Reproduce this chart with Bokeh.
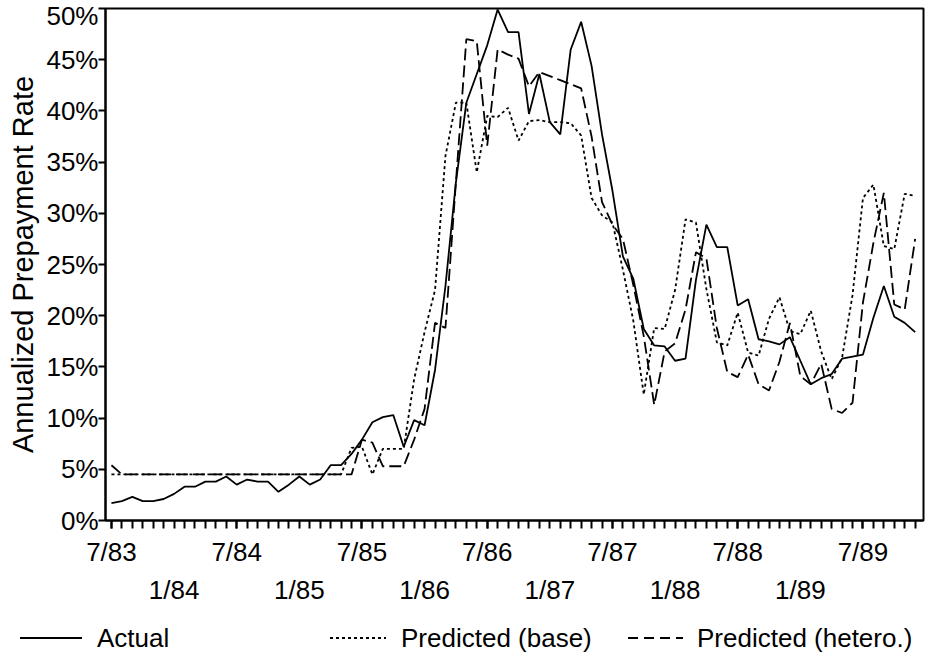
from bokeh.plotting import figure
from bokeh.layouts import column
from bokeh.models import (Range1d, LinearAxis, FixedTicker, Div,
                          PrintfTickFormatter)
from bokeh.embed import file_html
from bokeh.resources import INLINE

# months since 7/83 (monthly observations 7/83 .. 12/89)
month = list(range(78))

actual = [1.7, 1.9, 2.3, 1.9, 1.9, 2.1, 2.6, 3.3, 3.3, 3.8, 3.8, 4.3,
          3.5, 4.0, 3.8, 3.8, 2.8, 3.5, 4.3, 3.5, 4.0, 5.4, 5.4, 6.5,
          7.9, 9.6, 10.1, 10.3, 7.2, 9.8, 9.3, 14.7, 22.9, 33.0, 40.8, 43.6,
          46.4, 49.9, 47.7, 47.7, 39.7, 43.6, 38.9, 37.7, 46.0, 48.7, 44.4, 37.7,
          32.2, 25.8, 23.6, 18.7, 17.1, 17.0, 15.6, 15.8, 23.5, 28.9, 26.7, 26.7,
          21.0, 21.6, 17.7, 17.5, 17.2, 17.9, 15.6, 13.3, 13.9, 14.3, 15.8, 16.0,
          16.2, 19.8, 22.9, 19.9, 19.3, 18.4]

pred_base = [4.5] * 23 + [
          7.1, 7.2, 4.5, 7.0, 7.0, 7.0, 13.8, 18.4, 22.5, 35.6, 40.8, 40.8,
          34.0, 39.5, 39.4, 40.3, 37.1, 39.0, 39.1, 38.9, 38.9, 38.8, 37.6, 31.5,
          29.8, 29.1, 24.5, 19.5, 12.3, 18.8, 18.7, 22.5, 29.4, 29.1, 22.6, 17.4,
          17.1, 20.3, 16.4, 16.1, 19.7, 21.8, 18.5, 18.2, 20.5, 16.5, 13.8, 15.9,
          22.0, 31.5, 32.8, 26.8, 26.5, 31.9, 31.7]

pred_hetero = [5.4] + [4.5] * 23 + [
          7.9, 7.6, 5.3, 5.3, 5.3, 7.9, 10.9, 19.3, 18.8, 33.0, 47.0, 46.8,
          36.6, 46.0, 45.5, 45.1, 42.4, 43.8, 43.4, 43.0, 42.6, 42.2, 37.5, 31.1,
          28.9, 27.5, 23.0, 18.0, 11.3, 16.5, 17.3, 20.6, 26.2, 25.6, 18.8, 14.5,
          14.0, 16.2, 13.3, 12.7, 15.5, 19.3, 14.1, 13.3, 15.3, 10.9, 10.5, 11.5,
          21.3, 27.1, 32.0, 21.1, 20.6, 27.5]

july_ticks = [0, 12, 24, 36, 48, 60, 72]
july_labels = ["7/83", "7/84", "7/85", "7/86", "7/87", "7/88", "7/89"]
jan_ticks = [6, 18, 30, 42, 54, 66]
jan_labels = ["1/84", "1/85", "1/86", "1/87", "1/88", "1/89"]
y_ticks = [0, 5, 10, 15, 20, 25, 30, 35, 40, 45, 50]

series_labels = ["Actual", "Predicted (base)", "Predicted (hetero.)"]
series_dash = ["", "3 3", "12 5"]

FONT = "Liberation Sans"
FS = "26px"

p = figure(frame_width=818, frame_height=512,
           x_range=Range1d(-0.57, 77.8), y_range=Range1d(0, 50),
           output_backend="svg", toolbar_location=None,
           min_border_left=105, min_border_top=8, min_border_right=4,
           min_border_bottom=82)
p.xgrid.visible = False
p.ygrid.visible = False
p.outline_line_color = "black"
p.outline_line_width = 2
p.background_fill_color = "white"
p.border_fill_color = "white"

# y axis
ya = p.yaxis[0]
ya.ticker = FixedTicker(ticks=y_ticks)
ya.formatter = PrintfTickFormatter(format="%d%%")
ya.major_tick_in = 0
ya.major_tick_out = 7
ya.minor_tick_line_color = None
ya.axis_line_width = 2
ya.major_tick_line_width = 2
ya.major_label_text_font = FONT
ya.major_label_text_font_size = FS
ya.major_label_text_color = "black"
ya.major_label_standoff = 0
ya.axis_label = "Annualized Prepayment Rate"
ya.axis_label_text_font = FONT
ya.axis_label_text_font_size = "29px"
ya.axis_label_text_font_style = "normal"
ya.axis_label_text_color = "black"
ya.axis_label_standoff = 4

# x axis: July labels (row 1) and monthly ticks
xa = p.xaxis[0]
xa.ticker = FixedTicker(ticks=july_ticks, minor_ticks=month)
xa.major_label_overrides = dict(zip(july_ticks, july_labels))
xa.major_tick_in = 0
xa.major_tick_out = 8
xa.minor_tick_in = 0
xa.minor_tick_out = 8
xa.major_tick_line_width = 2
xa.minor_tick_line_width = 2
xa.axis_line_width = 2
xa.major_label_text_font = FONT
xa.major_label_text_font_size = FS
xa.major_label_text_color = "black"
xa.major_label_standoff = 8

# x axis: January labels (row 2)
xa2 = LinearAxis(ticker=FixedTicker(ticks=jan_ticks),
                 major_label_overrides=dict(zip(jan_ticks, jan_labels)))
xa2.axis_line_color = None
xa2.major_tick_line_color = None
xa2.minor_tick_line_color = None
xa2.major_tick_in = 0
xa2.major_tick_out = 0
xa2.major_label_text_font = FONT
xa2.major_label_text_font_size = FS
xa2.major_label_text_color = "black"
xa2.major_label_standoff = 5
p.add_layout(xa2, "below")

p.line(month, actual, line_color="black", line_width=1.8)
p.line(month, pred_base, line_color="black", line_width=1.8, line_dash=series_dash[1])
p.line(month, pred_hetero, line_color="black", line_width=1.8, line_dash=series_dash[2])

# key strip below the chart (sample line + label for each series)
key_x = [20, 330, 628]          # left end of each sample line (px)
key_len = [62, 56, 55]          # sample line length (px)
key_gap = [15, 15, 14]          # gap between sample line and label (px)
key_dash = ["none", "3 3", "10 6"]
parts = []
for lab, x0, ln, gp, da in zip(series_labels, key_x, key_len, key_gap, key_dash):
    parts.append(f'<line x1="{x0}" y1="31" x2="{x0 + ln}" y2="31" stroke="black" '
                 f'stroke-width="1.8" stroke-dasharray="{da}"/>')
    parts.append(f'<text x="{x0 + ln + gp}" y="40" font-family="{FONT}" '
                 f'font-size="{FS}" fill="black">{lab}</text>')
svg = ('<svg xmlns="http://www.w3.org/2000/svg" width="927" height="52" '
       'style="display:block">' + "".join(parts) + '</svg>')
key = Div(text=svg, width=927, height=52, margin=0,
          styles={"padding": "0", "margin": "0"})

open("out.html", "w").write(file_html(column(p, key, spacing=0), INLINE))
